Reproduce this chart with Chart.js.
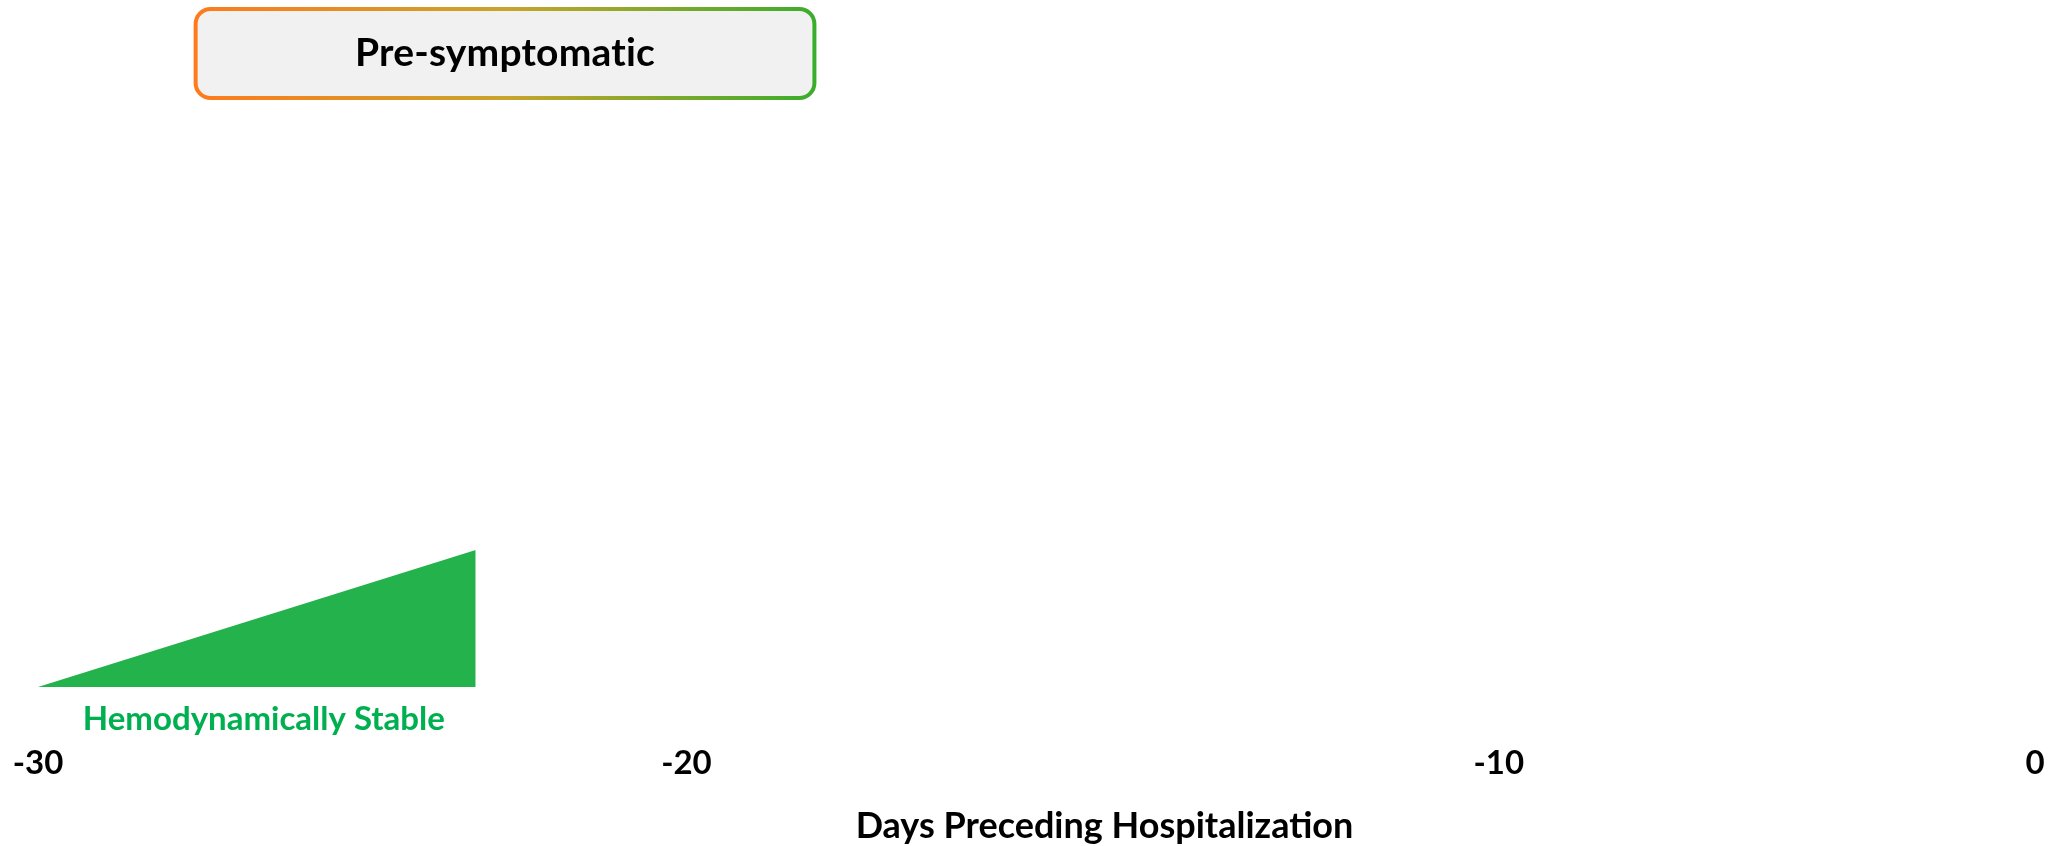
<!DOCTYPE html>
<html>
<head>
<meta charset="utf-8">
<title>Days Preceding Hospitalization</title>
<script src="https://cdn.jsdelivr.net/npm/chart.js@4.4.1/dist/chart.umd.min.js"></script>
<style>
  html, body { margin: 0; padding: 0; background: #ffffff; }
  #wrap { width: 2056px; height: 846px; position: relative; }
</style>
</head>
<body>
<div id="wrap"><canvas id="timeline"></canvas></div>
<script>
// ---- data ----
const tickDays = [-30, -20, -10, 0];
const tickLabels = ['-30', '-20', '-10', '0'];

const stableDays = [-30, -23.25];
const stableLevel = [0, 1];
const stableLabel = 'Hemodynamically Stable';

const phaseNames = ['Pre-symptomatic'];
const phaseStart = [-27.6];
const phaseEnd = [-18.4];

const axisTitle = 'Days Preceding Hospitalization';

// ---- piecewise day axis: each tick sits at its own share of the width ----
const tickFractions = [0, 0.3247, 0.7315, 1];

function dayToFraction(v) {
  const n = tickDays.length;
  if (v <= tickDays[0]) {
    return tickFractions[0] + (v - tickDays[0]) * (tickFractions[1] - tickFractions[0]) / (tickDays[1] - tickDays[0]);
  }
  for (let i = 1; i < n; i++) {
    if (v <= tickDays[i]) {
      const t = (v - tickDays[i - 1]) / (tickDays[i] - tickDays[i - 1]);
      return tickFractions[i - 1] + t * (tickFractions[i] - tickFractions[i - 1]);
    }
  }
  return tickFractions[n - 1] + (v - tickDays[n - 1]) * (tickFractions[n - 1] - tickFractions[n - 2]) / (tickDays[n - 1] - tickDays[n - 2]);
}

function fractionToDay(f) {
  const n = tickDays.length;
  for (let i = 1; i < n; i++) {
    if (f <= tickFractions[i] || i === n - 1) {
      const t = (f - tickFractions[i - 1]) / (tickFractions[i] - tickFractions[i - 1]);
      return tickDays[i - 1] + t * (tickDays[i] - tickDays[i - 1]);
    }
  }
  return tickDays[n - 1];
}

class PiecewiseScale extends Chart.LinearScale {
  static id = 'piecewise';
  static defaults = Chart.LinearScale.defaults;
  getPixelForValue(value) {
    if (value === null || value === undefined || isNaN(value)) return NaN;
    return this.getPixelForDecimal(dayToFraction(value));
  }
  getValueForPixel(pixel) {
    return fractionToDay(this.getDecimalForPixel(pixel));
  }
}
Chart.register(PiecewiseScale);

const FONT = 'Lato';

// rounded phase box with an orange-to-green outline, the state caption and the axis title
const annotationsPlugin = {
  id: 'phaseBoxes',
  afterDatasetsDraw(chart) {
    const { ctx, chartArea, scales: { x } } = chart;
    ctx.save();
    phaseNames.forEach((name, i) => {
      const x0 = x.getPixelForValue(phaseStart[i]);
      const x1 = x.getPixelForValue(phaseEnd[i]);
      const y0 = chartArea.top + 5;
      const y1 = chartArea.top + 98;
      const lw = 4;
      const grad = ctx.createLinearGradient(x0, 0, x1, 0);
      grad.addColorStop(0, '#ff7a1c');
      grad.addColorStop(0.5, '#c9a42a');
      grad.addColorStop(1, '#3aad2c');
      ctx.beginPath();
      ctx.roundRect(x0 + lw / 2, y0 + lw / 2, x1 - x0 - lw, y1 - y0 - lw, 15);
      ctx.fillStyle = '#f1f1f1';
      ctx.fill();
      ctx.lineWidth = lw;
      ctx.strokeStyle = grad;
      ctx.stroke();
      ctx.fillStyle = '#000000';
      ctx.font = 'bold 39px ' + FONT;
      ctx.letterSpacing = '0.2px';
      ctx.textAlign = 'center';
      ctx.textBaseline = 'middle';
      ctx.fillText(name, (x0 + x1) / 2, (y0 + y1) / 2);
      ctx.letterSpacing = '0px';
    });

    const sx0 = x.getPixelForValue(stableDays[0]);
    const sx1 = x.getPixelForValue(stableDays[stableDays.length - 1]);
    ctx.fillStyle = '#00b050';
    ctx.font = 'bold 33px ' + FONT;
    ctx.textAlign = 'center';
    ctx.textBaseline = 'middle';
    ctx.fillText(stableLabel, (sx0 + sx1) / 2 + 7, chartArea.bottom + 32);

    // axis title, set a little right of the axis centre
    ctx.fillStyle = '#000000';
    ctx.font = 'bold 36px ' + FONT;
    ctx.textAlign = 'center';
    ctx.textBaseline = 'alphabetic';
    ctx.fillText(axisTitle, (x.left + x.right) / 2 + 68, x.bottom - 8);
    ctx.restore();
  }
};

new Chart(document.getElementById('timeline'), {
  type: 'line',
  data: {
    datasets: [{
      label: stableLabel,
      data: stableDays.map((d, i) => ({ x: d, y: stableLevel[i] })),
      fill: 'origin',
      backgroundColor: '#24b24c',
      borderColor: '#24b24c',
      borderWidth: 0,
      pointRadius: 0,
      tension: 0
    }]
  },
  options: {
    responsive: true,
    maintainAspectRatio: false,
    animation: false,
    layout: { autoPadding: false, padding: { left: 38, right: 21, top: 2, bottom: 0 } },
    plugins: {
      legend: { display: false },
      tooltip: { enabled: false }
    },
    scales: {
      x: {
        type: 'piecewise',
        min: tickDays[0],
        max: tickDays[tickDays.length - 1],
        afterBuildTicks: (scale) => { scale.ticks = tickDays.map(v => ({ value: v })); },
        afterFit: (scale) => {
          scale.height = 159;
          scale.paddingLeft = 0;
          scale.paddingRight = 0;
        },
        grid: { display: false, drawTicks: false },
        border: { display: false },
        ticks: {
          autoSkip: false,
          maxRotation: 0,
          padding: 60,
          color: '#000000',
          font: { family: FONT, size: 33, weight: 'bold', lineHeight: 1 },
          callback: (value, index) => tickLabels[index]
        },
        title: { display: false }
      },
      y: {
        display: false,
        min: 0,
        max: 5
      }
    }
  },
  plugins: [annotationsPlugin]
});
</script>
</body>
</html>
